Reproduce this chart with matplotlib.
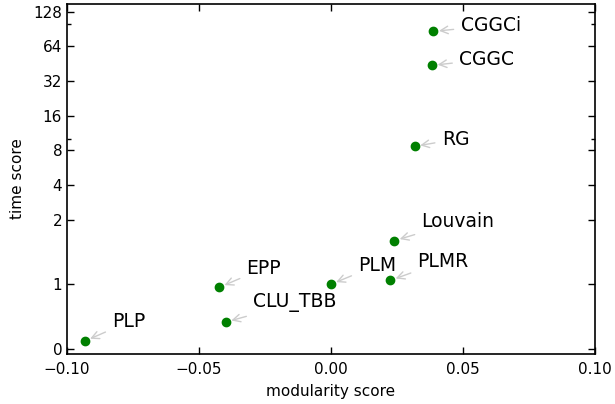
import matplotlib
matplotlib.use("Agg")
import matplotlib.pyplot as plt
from matplotlib.ticker import FixedLocator, FuncFormatter, NullFormatter

# algorithm scores
names = ["PLP", "CLU_TBB", "EPP", "PLM", "PLMR", "Louvain", "RG", "CGGC", "CGGCi"]
modularity = [-0.0932, -0.0398, -0.0423, 0.0, 0.0225, 0.0240, 0.0317, 0.0383, 0.0388]
time_score = [0.124, 0.417, 0.953, 1.0, 1.06, 1.673, 8.66, 43.8, 86.5]
# label offsets (points) for each annotation
offsets = [(19.5, 13.7)] * 6 + [(19.5, 5.0), (19.5, 4.3), (19.5, 4.0)]

y_ticks = [0, 1, 2, 4, 8, 16, 32, 64, 128]
y_minor = [10, 100]
x_ticks = [-0.10, -0.05, 0.00, 0.05, 0.10]


def fmt_x(v, pos):
    s = "%.2f" % abs(v)
    return "\u2212" + s if v < -1e-9 else s


fig = plt.figure(figsize=(6.15, 4.04), dpi=100)
ax = fig.add_axes([0.109, 0.1238, 0.8585, 0.8675])

ax.plot(modularity, time_score, 'o', color=(0, 0.5, 0), markeredgecolor=(0, 0.5, 0),
        markersize=6, linestyle='none')

for name, x, y, off in zip(names, modularity, time_score, offsets):
    ax.annotate(name, xy=(x, y), xytext=off, textcoords='offset points',
                ha='left', va='center', fontsize=13.5,
                arrowprops=dict(arrowstyle='->', color='#cccccc', lw=1.0,
                                shrinkA=3, shrinkB=4))

ax.set_yscale('symlog', base=2, linthresh=2, linscale=1.87)
ax.set_ylim(-0.077, 151)
ax.set_xlim(-0.10, 0.10)

ax.yaxis.set_major_locator(FixedLocator(y_ticks))
ax.yaxis.set_major_formatter(FuncFormatter(lambda v, p: "%d" % v))
ax.yaxis.set_minor_locator(FixedLocator(y_minor))
ax.yaxis.set_minor_formatter(NullFormatter())
ax.xaxis.set_major_locator(FixedLocator(x_ticks))
ax.xaxis.set_major_formatter(FuncFormatter(fmt_x))
ax.xaxis.set_minor_locator(FixedLocator([]))

ax.tick_params(which='both', direction='in', top=True, right=True, labelsize=11)
ax.tick_params(which='major', length=5, width=1)
ax.tick_params(which='minor', length=3, width=1)
ax.tick_params(axis='x', pad=6)
for s in ax.spines.values():
    s.set_linewidth(1.2)

ax.set_xlabel('modularity score', fontsize=11, labelpad=5)
ax.set_ylabel('time score', fontsize=11, labelpad=6)

fig.savefig('out.png', dpi=100)
